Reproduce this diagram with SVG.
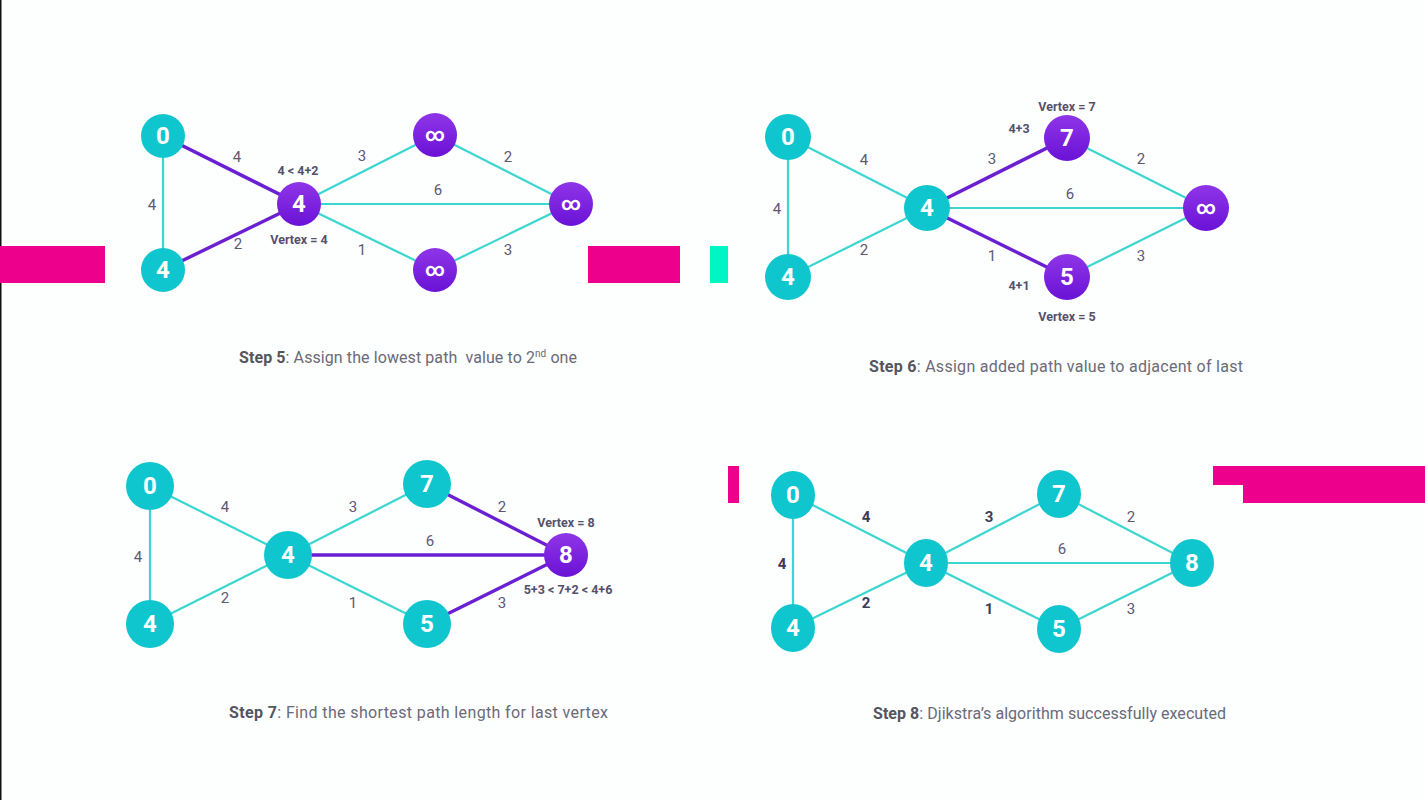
<svg xmlns="http://www.w3.org/2000/svg" width="1425" height="800" viewBox="0 0 1425 800">
<defs>
<linearGradient id="pg" x1="0" y1="0" x2="0" y2="1">
<stop offset="0" stop-color="#8F35E8"/>
<stop offset="1" stop-color="#6A12D6"/>
</linearGradient>
<style>
.c{fill:#0FC6CF}
.p{fill:url(#pg)}
.ec{stroke:#3CD6D0;stroke-width:2.2;fill:none}
.ep{stroke:#6A1FD2;stroke-width:3.4;fill:none}
.nt{font-family:Roboto,"Liberation Sans",sans-serif;font-weight:bold;font-size:24px;fill:#fff;text-anchor:middle;dominant-baseline:central}
.inf{font-size:19px}
.el{font-family:Roboto,"Liberation Sans",sans-serif;font-size:15px;fill:#5E5872;text-anchor:middle;dominant-baseline:central}
.eb{font-weight:bold;fill:#3E3A58}
.an{font-family:Roboto,"Liberation Sans",sans-serif;font-size:12.5px;font-weight:bold;fill:#55506A;text-anchor:middle;dominant-baseline:central}
.cap{font-family:Roboto,"Liberation Sans",sans-serif;font-size:16px;fill:#6A6A78}
.cap tspan.b{font-weight:bold;fill:#55555F}
.pk{fill:#EC008C}
</style>
</defs>
<rect width="1425" height="800" fill="#FDFEFE"/>
<rect x="0" y="0" width="1.5" height="800" fill="#111"/>
<g id="decor">
<rect class="pk" x="0" y="246" width="105" height="37"/>
<rect class="pk" x="588" y="246" width="92" height="37"/>
<rect x="710" y="246" width="18" height="37" fill="#00F5C4"/>
<rect class="pk" x="728" y="466" width="11" height="37"/>
<polygon class="pk" points="1213,466 1425,466 1425,503 1243,503 1243,485 1213,485"/>
</g>

<g id="connectors">
<!-- Step 5 -->
<line class="ec" x1="163" y1="136" x2="163" y2="270"/>
<line class="ep" x1="163" y1="136" x2="299" y2="204"/>
<line class="ep" x1="163" y1="270" x2="299" y2="204"/>
<line class="ec" x1="299" y1="204" x2="435" y2="135"/>
<line class="ec" x1="299" y1="204" x2="571" y2="204"/>
<line class="ec" x1="299" y1="204" x2="435" y2="270"/>
<line class="ec" x1="435" y1="135" x2="571" y2="204"/>
<line class="ec" x1="435" y1="270" x2="571" y2="204"/>
<!-- Step 6 -->
<line class="ec" x1="788" y1="137" x2="788" y2="277"/>
<line class="ec" x1="788" y1="137" x2="927" y2="208"/>
<line class="ec" x1="788" y1="277" x2="927" y2="208"/>
<line class="ep" x1="927" y1="208" x2="1067" y2="138"/>
<line class="ec" x1="927" y1="208" x2="1206" y2="208"/>
<line class="ep" x1="927" y1="208" x2="1067" y2="277"/>
<line class="ec" x1="1067" y1="138" x2="1206" y2="208"/>
<line class="ec" x1="1067" y1="277" x2="1206" y2="208"/>
<!-- Step 7 -->
<line class="ec" x1="150" y1="486" x2="150" y2="624"/>
<line class="ec" x1="150" y1="486" x2="288" y2="555"/>
<line class="ec" x1="150" y1="624" x2="288" y2="555"/>
<line class="ec" x1="288" y1="555" x2="427" y2="484"/>
<line class="ep" x1="288" y1="555" x2="566" y2="555"/>
<line class="ec" x1="288" y1="555" x2="427" y2="624"/>
<line class="ep" x1="427" y1="484" x2="566" y2="555"/>
<line class="ep" x1="427" y1="624" x2="566" y2="555"/>
<!-- Step 8 -->
<line class="ec" x1="793" y1="495" x2="793" y2="628"/>
<line class="ec" x1="793" y1="495" x2="926" y2="563"/>
<line class="ec" x1="793" y1="628" x2="926" y2="563"/>
<line class="ec" x1="926" y1="563" x2="1059" y2="494"/>
<line class="ec" x1="926" y1="563" x2="1192" y2="563"/>
<line class="ec" x1="926" y1="563" x2="1059" y2="629"/>
<line class="ec" x1="1059" y1="494" x2="1192" y2="563"/>
<line class="ec" x1="1059" y1="629" x2="1192" y2="563"/>
</g>

<g id="edge-labels">
<text class="el" x="237" y="157">4</text>
<text class="el" x="152" y="205">4</text>
<text class="el" x="238" y="244">2</text>
<text class="el" x="362" y="156">3</text>
<text class="el" x="438" y="190">6</text>
<text class="el" x="362" y="250">1</text>
<text class="el" x="508" y="157">2</text>
<text class="el" x="508" y="250">3</text>

<text class="el" x="864" y="160">4</text>
<text class="el" x="777" y="209">4</text>
<text class="el" x="864" y="250">2</text>
<text class="el" x="992" y="159">3</text>
<text class="el" x="1070" y="194">6</text>
<text class="el" x="992" y="256">1</text>
<text class="el" x="1141" y="159">2</text>
<text class="el" x="1141" y="256">3</text>

<text class="el" x="225" y="507">4</text>
<text class="el" x="138" y="557">4</text>
<text class="el" x="225" y="598">2</text>
<text class="el" x="353" y="507">3</text>
<text class="el" x="430" y="541">6</text>
<text class="el" x="353" y="603">1</text>
<text class="el" x="502" y="507">2</text>
<text class="el" x="502" y="603">3</text>

<text class="el eb" x="866" y="517">4</text>
<text class="el eb" x="782" y="564">4</text>
<text class="el eb" x="866" y="603">2</text>
<text class="el eb" x="989" y="517">3</text>
<text class="el" x="1062" y="549">6</text>
<text class="el eb" x="989" y="609">1</text>
<text class="el" x="1131" y="517">2</text>
<text class="el" x="1131" y="609">3</text>
</g>

<g id="annotations">
<text class="an" x="298" y="170">4 &lt; 4+2</text>
<text class="an" x="299" y="239">Vertex = 4</text>
<text class="an" x="1067" y="106">Vertex = 7</text>
<text class="an" x="1019" y="128">4+3</text>
<text class="an" x="1019" y="285">4+1</text>
<text class="an" x="1067" y="316">Vertex = 5</text>
<text class="an" x="566" y="522">Vertex = 8</text>
<text class="an" x="568" y="589">5+3 &lt; 7+2 &lt; 4+6</text>
</g>

<!-- Step 5 nodes -->
<g id="s5-n0"><circle class="c" cx="163" cy="136" r="22"/><text class="nt" x="163" y="136">0</text></g>
<g id="s5-n4a"><circle class="c" cx="163" cy="270" r="22"/><text class="nt" x="163" y="270">4</text></g>
<g id="s5-n4b"><circle class="p" cx="299" cy="204" r="22"/><text class="nt" x="299" y="204">4</text></g>
<g id="s5-ninf1"><circle class="p" cx="435" cy="135" r="22"/><text class="nt inf" x="435" y="134">∞</text></g>
<g id="s5-ninf2"><circle class="p" cx="571" cy="204" r="22"/><text class="nt inf" x="571" y="203">∞</text></g>
<g id="s5-ninf3"><circle class="p" cx="435" cy="270" r="22"/><text class="nt inf" x="435" y="269">∞</text></g>

<!-- Step 6 nodes -->
<g id="s6-n0"><circle class="c" cx="788" cy="137" r="23"/><text class="nt" x="788" y="137">0</text></g>
<g id="s6-n4a"><circle class="c" cx="788" cy="277" r="23"/><text class="nt" x="788" y="277">4</text></g>
<g id="s6-n4b"><circle class="c" cx="927" cy="208" r="23"/><text class="nt" x="927" y="208">4</text></g>
<g id="s6-n7"><circle class="p" cx="1067" cy="138" r="23"/><text class="nt" x="1067" y="138">7</text></g>
<g id="s6-ninf"><circle class="p" cx="1206" cy="208" r="23"/><text class="nt inf" x="1206" y="207">∞</text></g>
<g id="s6-n5"><circle class="p" cx="1067" cy="277" r="23"/><text class="nt" x="1067" y="277">5</text></g>

<!-- Step 7 nodes -->
<g id="s7-n0"><circle class="c" cx="150" cy="486" r="24"/><text class="nt" x="150" y="486">0</text></g>
<g id="s7-n4a"><circle class="c" cx="150" cy="624" r="24"/><text class="nt" x="150" y="624">4</text></g>
<g id="s7-n4b"><circle class="c" cx="288" cy="555" r="24"/><text class="nt" x="288" y="555">4</text></g>
<g id="s7-n7"><circle class="c" cx="427" cy="484" r="24"/><text class="nt" x="427" y="484">7</text></g>
<g id="s7-n8"><circle class="p" cx="566" cy="555" r="22"/><text class="nt" x="566" y="555">8</text></g>
<g id="s7-n5"><circle class="c" cx="427" cy="624" r="24"/><text class="nt" x="427" y="624">5</text></g>

<!-- Step 8 nodes -->
<g id="s8-n0"><ellipse class="c" cx="793" cy="495" rx="22" ry="24"/><text class="nt" x="793" y="495">0</text></g>
<g id="s8-n4a"><ellipse class="c" cx="793" cy="628" rx="22" ry="24"/><text class="nt" x="793" y="628">4</text></g>
<g id="s8-n4b"><ellipse class="c" cx="926" cy="563" rx="22" ry="24"/><text class="nt" x="926" y="563">4</text></g>
<g id="s8-n7"><ellipse class="c" cx="1059" cy="494" rx="22" ry="24"/><text class="nt" x="1059" y="494">7</text></g>
<g id="s8-n8"><ellipse class="c" cx="1192" cy="563" rx="22" ry="24"/><text class="nt" x="1192" y="563">8</text></g>
<g id="s8-n5"><ellipse class="c" cx="1059" cy="629" rx="22" ry="24"/><text class="nt" x="1059" y="629">5</text></g>

<g id="captions">
<text class="cap" x="239" y="363" textLength="338" lengthAdjust="spacing"><tspan class="b">Step 5</tspan>: Assign the lowest path&#160; value to 2<tspan font-size="10" dy="-6">nd</tspan><tspan dy="6"> one</tspan></text>
<text class="cap" x="869" y="372" textLength="374" lengthAdjust="spacing"><tspan class="b">Step 6</tspan>: Assign added path value to adjacent of last</text>
<text class="cap" x="229" y="718" textLength="379" lengthAdjust="spacing"><tspan class="b">Step 7</tspan>: Find the shortest path length for last vertex</text>
<text class="cap" x="873" y="719" textLength="353" lengthAdjust="spacing"><tspan class="b">Step 8</tspan>: Djikstra’s algorithm successfully executed</text>
</g>
</svg>
